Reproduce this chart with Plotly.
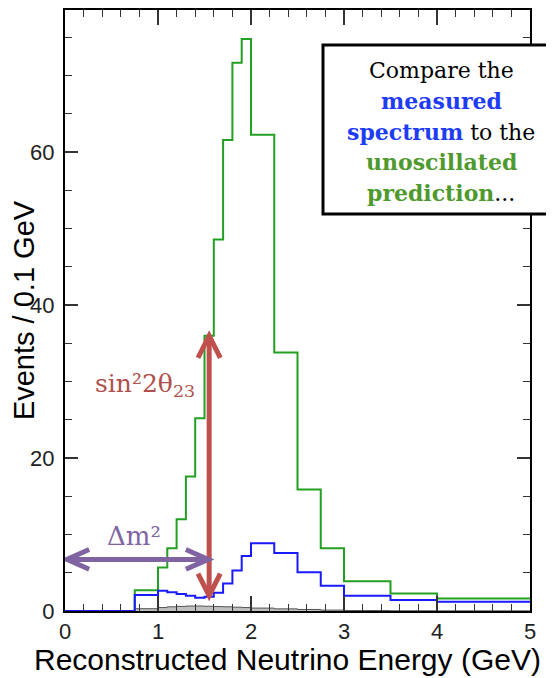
import plotly.graph_objects as go

# ---------------- data ----------------
bin_edges = [0.0, 0.75, 1.0, 1.1, 1.2, 1.3, 1.4, 1.5, 1.6, 1.7, 1.8, 1.9,
             2.0, 2.25, 2.5, 2.75, 3.0, 3.5, 4.0, 5.0]
unoscillated = [0.0, 2.7, 5.7, 8.2, 12.0, 17.6, 25.2, 36.0, 48.6, 61.6, 71.7,
                74.8, 62.3, 33.8, 15.9, 8.2, 3.9, 2.3, 1.65]
measured = [0.0, 2.1, 2.66, 2.44, 2.22, 2.0, 1.74, 1.87, 2.4, 3.6, 5.3,
            7.2, 8.85, 7.6, 5.06, 3.3, 2.0, 1.44, 1.22]
background = [0.0, 0.3, 0.45, 0.55, 0.6, 0.65, 0.65, 0.62, 0.58, 0.55, 0.5,
              0.45, 0.38, 0.28, 0.2, 0.12, 0.06, 0.03, 0.02]

x_ticks = [0, 1, 2, 3, 4, 5]
y_ticks = [0, 20, 40, 60]
x_range = [0, 5]
y_range = [0, 78.6]

# annotation arrows (data coordinates)
sin_arrow_x = 1.55
sin_arrow_y = (2.0, 36.0)
dm_arrow_y = 6.75
dm_arrow_x = (0.02, 1.54)

x_title = "Reconstructed Neutrino Energy (GeV)"
y_title = "Events / 0.1 GeV"

box_lines = [
    "Compare the",
    "<b><span style='color:#1f3cf5'>measured</span></b>",
    "<b><span style='color:#1f3cf5'>spectrum</span></b> to the",
    "<b><span style='color:#4f9a2e'>unoscillated</span></b>",
    "<b><span style='color:#4f9a2e'>prediction</span></b>...",
]

GREEN = "#22a022"
BLUE = "#1a1aff"
RED = "#c0504d"
PURPLE = "#8064a2"

# plot-area geometry in page pixels (used to convert positions to paper coords)
PX_L, PX_R, PX_T, PX_B = 65, 530, 10, 611


def px_to_paper_x(px):
    return (px - PX_L) / (PX_R - PX_L)


def px_to_paper_y(py):
    return (PX_B - py) / (PX_B - PX_T)


def steps(vals):
    return list(vals) + [vals[-1]]


fig = go.Figure()
fig.add_trace(go.Scatter(x=bin_edges, y=steps(background), mode="lines",
                         line=dict(shape="hv", color="#555555", width=1),
                         fill="tozeroy", fillcolor="rgba(150,150,150,0.6)",
                         hoverinfo="skip"))
fig.add_trace(go.Scatter(x=bin_edges, y=steps(unoscillated), mode="lines",
                         line=dict(shape="hv", color=GREEN, width=2)))
fig.add_trace(go.Scatter(x=bin_edges, y=steps(measured), mode="lines",
                         line=dict(shape="hv", color=BLUE, width=2)))

# arrow geometry helpers (chevron heads)
hx, hy = 0.12, 2.9      # vertical arrow head half-width / length
vx, vy = 0.24, 1.3      # horizontal arrow head length / half-height
shapes = []
shapes.append(dict(type="line", xref="x", yref="y", x0=sin_arrow_x, x1=sin_arrow_x,
                   y0=sin_arrow_y[0], y1=sin_arrow_y[1], line=dict(color=RED, width=5), layer="above"))
for yt, sgn in ((sin_arrow_y[1], -1), (sin_arrow_y[0], 1)):
    shapes.append(dict(type="path", xref="x", yref="y",
                       path=f"M {sin_arrow_x-hx},{yt+sgn*hy} L {sin_arrow_x},{yt} L {sin_arrow_x+hx},{yt+sgn*hy}",
                       line=dict(color=RED, width=5), layer="above"))
shapes.append(dict(type="line", xref="x", yref="y", x0=dm_arrow_x[0], x1=dm_arrow_x[1],
                   y0=dm_arrow_y, y1=dm_arrow_y, line=dict(color=PURPLE, width=5), layer="above"))
for xt, sgn in ((dm_arrow_x[0], 1), (dm_arrow_x[1], -1)):
    shapes.append(dict(type="path", xref="x", yref="y",
                       path=f"M {xt+sgn*vx},{dm_arrow_y+vy} L {xt},{dm_arrow_y} L {xt+sgn*vx},{dm_arrow_y-vy}",
                       line=dict(color=PURPLE, width=5), layer="above"))
# text box
shapes.append(dict(type="rect", xref="paper", yref="paper",
                   x0=px_to_paper_x(323), x1=px_to_paper_x(560),
                   y0=px_to_paper_y(214), y1=px_to_paper_y(45), fillcolor="white",
                   line=dict(color="black", width=3), layer="above"))

annotations = []
line_y_px = [70, 100.75, 131.5, 162.25, 193]
for txt, ly in zip(box_lines, line_y_px):
    annotations.append(dict(xref="paper", yref="paper", x=px_to_paper_x(441), y=px_to_paper_y(ly),
                            text=txt, showarrow=False,
                            font=dict(family="DejaVu Serif", size=22, color="black"),
                            xanchor="center", yanchor="middle"))
annotations += [
    dict(xref="x", yref="y", x=0.86, y=29.5, text="sin²2θ<sub>23</sub>", showarrow=False,
         font=dict(family="DejaVu Serif", size=25, color="#b0504c"), xanchor="center", yanchor="middle"),
    dict(xref="x", yref="y", x=0.74, y=9.8, text="Δm²", showarrow=False,
         font=dict(family="DejaVu Serif", size=26, color=PURPLE), xanchor="center", yanchor="middle"),
    dict(xref="paper", yref="paper", x=px_to_paper_x(287), y=px_to_paper_y(659), text=x_title,
         showarrow=False, font=dict(family="Liberation Sans", size=30, color="black"),
         xanchor="center", yanchor="middle"),
]

axis_common = dict(showline=True, linecolor="black", linewidth=2, mirror="ticks",
                   ticks="inside", tickcolor="#333333", tickwidth=1.5,
                   showgrid=False, zeroline=False,
                   tickfont=dict(family="Liberation Sans", size=22, color="#222222"))

# the page adds an 8px body margin, so the figure is 8px smaller and shifted
fig.update_layout(
    width=546, height=670,
    margin=dict(l=57, r=24, t=2, b=67),
    plot_bgcolor="white", paper_bgcolor="white",
    showlegend=False,
    shapes=shapes, annotations=annotations,
    xaxis=dict(range=x_range, tickvals=x_ticks, ticklen=15,
               minor=dict(dtick=0.2, ticklen=7, ticks="inside", tickcolor="#333333", tickwidth=1.2),
               automargin=False,
               **axis_common),
    yaxis=dict(range=y_range, tickvals=y_ticks, ticklen=13, ticklabelstandoff=4,
               minor=dict(dtick=5, ticklen=7, ticks="inside", tickcolor="#333333", tickwidth=1.2),
               title=dict(text=y_title, font=dict(family="Liberation Sans", size=29, color="black"), standoff=2),
               automargin=False,
               **axis_common),
)

fig.write_html("out.html")
